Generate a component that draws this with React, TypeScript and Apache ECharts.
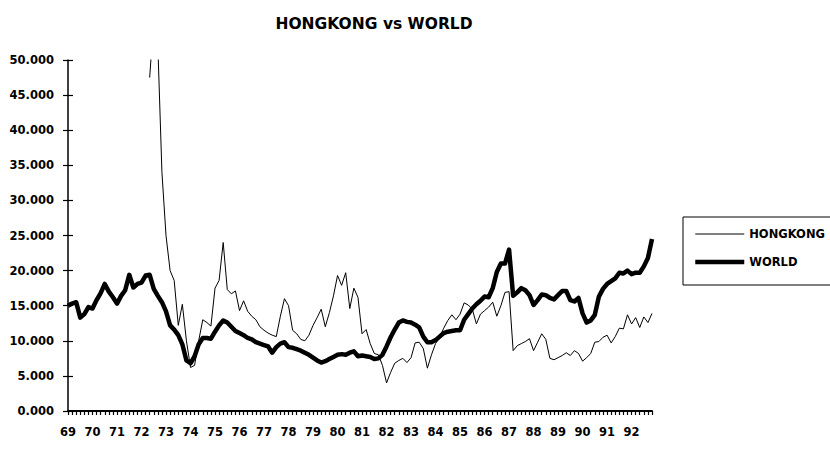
import React, { useEffect, useRef } from "react";
import * as echarts from "echarts";

const years = ["69","70","71","72","73","74","75","76","77","78","79","80","81","82","83","84","85","86","87","88","89","90","91","92"];
const periodsPerYear = 6;

const world = [
  15.0, 15.3, 15.5, 13.3, 13.8, 14.8,
  14.6, 15.8, 16.8, 18.1, 17.0, 16.2,
  15.3, 16.4, 17.2, 19.4, 17.6, 18.1,
  18.3, 19.3, 19.4, 17.4, 16.4, 15.5,
  14.2, 12.2, 11.6, 10.8, 9.5, 7.2,
  6.8, 7.8, 9.5, 10.4, 10.4, 10.3,
  11.3, 12.2, 12.9, 12.6, 12.0, 11.4,
  11.1, 10.8, 10.4, 10.2, 9.8, 9.6,
  9.4, 9.2, 8.3, 9.1, 9.6, 9.8,
  9.1, 9.0, 8.8, 8.6, 8.3, 8.0,
  7.6, 7.2, 6.9, 7.1, 7.4, 7.7,
  8.0, 8.1, 8.0, 8.3, 8.5, 7.8,
  7.9, 7.8, 7.7, 7.4, 7.5, 8.0,
  9.2, 10.5, 11.6, 12.6, 12.9, 12.7,
  12.6, 12.3, 11.9, 10.6, 9.8, 9.8,
  10.1, 10.6, 11.1, 11.3, 11.4, 11.5,
  11.5, 13.0, 13.8, 14.6, 15.2, 15.7,
  16.3, 16.2, 17.5, 19.8, 21.0, 21.0,
  23.0, 16.4, 16.9, 17.5, 17.2, 16.5,
  15.1, 15.8, 16.6, 16.5, 16.1, 15.9,
  16.5, 17.1, 17.1, 15.8, 15.6, 16.1,
  13.9, 12.6, 12.9, 13.7, 16.3, 17.4,
  18.1, 18.5, 18.9, 19.7, 19.6, 20.0,
  19.5, 19.7, 19.7, 20.6, 21.8, 24.5,
];

const hongkong = [
  null, null, null, null, null, null,
  null, null, null, null, null, null,
  null, null, null, null, null, null,
  null, null, 47.5, 56, 52, 34,
  25.0, 20.0, 18.6, 12.2, 15.2, 10.0,
  6.2, 6.5, 10.0, 13.0, 12.6, 12.1,
  17.5, 18.6, 24.0, 17.3, 16.7, 17.1,
  14.3, 15.7, 14.2, 13.5, 13.0, 12.0,
  11.5, 11.1, 10.8, 10.6, 13.5, 16.0,
  15.0, 11.5, 11.0, 10.2, 10.0, 10.8,
  12.2, 13.3, 14.5, 12.0, 14.0, 16.4,
  19.3, 17.9, 19.7, 14.6, 17.5, 16.2,
  11.0, 11.6, 9.6, 8.2, 8.0, 6.5,
  4.0, 5.5, 6.8, 7.2, 7.5, 6.9,
  7.6, 9.7, 9.8, 8.9, 6.1, 8.0,
  9.6, 10.5, 11.8, 12.9, 13.7, 13.0,
  13.8, 15.4, 15.1, 14.5, 12.4, 13.8,
  14.3, 14.8, 15.5, 13.5, 15.0, 16.9,
  17.0, 8.6, 9.3, 9.6, 9.9, 10.3,
  8.6, 9.8, 11.0, 10.2, 7.5, 7.3,
  7.6, 7.9, 8.3, 7.9, 8.6, 8.2,
  7.1, 7.6, 8.2, 9.8, 9.9, 10.5,
  10.8, 9.7, 10.6, 11.8, 11.7, 13.7,
  12.4, 13.3, 11.9, 13.4, 12.6, 13.9,
];

const categories: string[] = years.flatMap((y) =>
  Array.from({ length: periodsPerYear }, (_, k) => `${y}-${k + 1}`)
);

const FONT = "DejaVu Sans";
const HK_WIDTH = 1;
const WORLD_WIDTH = 4.5;

export default function App() {
  const ref = useRef<HTMLDivElement>(null);

  useEffect(() => {
    if (!ref.current) return;
    const chart = echarts.init(ref.current, undefined, { renderer: "svg" });
    const yCommon = {
      type: "value" as const,
      min: 0,
      max: 50,
      interval: 5,
      position: "left" as const,
      splitLine: { show: false },
    };
    chart.setOption({
      animation: false,
      backgroundColor: "#ffffff",
      title: {
        text: "HONGKONG vs WORLD",
        left: 369,
        textAlign: "center",
        top: 11,
        textStyle: { fontFamily: FONT, fontWeight: "bold", fontSize: 15.5, color: "#000" },
      },
      graphic: [
        {
          type: "rect",
          shape: { x: 683, y: 217, width: 200, height: 68 },
          style: { fill: "none", stroke: "#000", lineWidth: 1 },
          silent: true,
        },
      ],
      legend: {
        orient: "vertical",
        left: 693,
        top: 228,
        padding: 0,
        itemGap: 16,
        itemWidth: 49,
        itemHeight: 14,
        itemStyle: { opacity: 0 },
        data: [
          { name: "HONGKONG", lineStyle: { width: HK_WIDTH, color: "#000" }, itemStyle: { opacity: 0 } },
          { name: "WORLD", lineStyle: { width: WORLD_WIDTH, color: "#000" }, itemStyle: { opacity: 0 } },
        ],
        textStyle: { fontFamily: FONT, fontWeight: "bold", fontSize: 11.5, color: "#000" },
      },
      grid: { left: 68, top: 60, width: 584, height: 351, containLabel: false },
      xAxis: {
        type: "category",
        data: categories,
        boundaryGap: false,
        axisLine: { lineStyle: { color: "#000", width: 2 } },
        axisTick: { show: true, interval: 0, length: 4, lineStyle: { color: "#000", width: 1.2 } },
        axisLabel: {
          interval: (index: number) => index % periodsPerYear === 0,
          formatter: (v: string) => v.split("-")[0],
          fontFamily: FONT,
          fontWeight: "bold",
          fontSize: 11.5,
          color: "#000",
          margin: 15,
        },
        splitLine: { show: false },
      },
      yAxis: [
        {
          ...yCommon,
          axisLine: { show: true, lineStyle: { color: "#000", width: 1.5 } },
          axisTick: { show: true, inside: false, length: 5, lineStyle: { color: "#000", width: 1.2 } },
          axisLabel: {
            formatter: (v: number) => v.toFixed(3),
            fontFamily: FONT,
            fontWeight: "bold",
            fontSize: 11.5,
            color: "#000",
            margin: 14,
          },
        },
        {
          ...yCommon,
          offset: 0,
          axisLine: { show: false },
          axisTick: { show: true, inside: true, length: 5, lineStyle: { color: "#000", width: 1.2 } },
          axisLabel: { show: false },
        },
      ],
      series: [
        {
          name: "HONGKONG",
          type: "line",
          yAxisIndex: 0,
          data: hongkong,
          symbol: "none",
          connectNulls: false,
          lineStyle: { color: "#000", width: HK_WIDTH },
          itemStyle: { color: "#000" },
        },
        {
          name: "WORLD",
          type: "line",
          yAxisIndex: 0,
          data: world,
          symbol: "none",
          lineStyle: { color: "#000", width: WORLD_WIDTH, join: "round" },
          itemStyle: { color: "#000" },
        },
      ],
    });
    return () => chart.dispose();
  }, []);

  return (
    <div
      ref={ref}
      style={{ position: "fixed", left: 0, top: 0, width: 830, height: 459, background: "#fff" }}
    />
  );
}
